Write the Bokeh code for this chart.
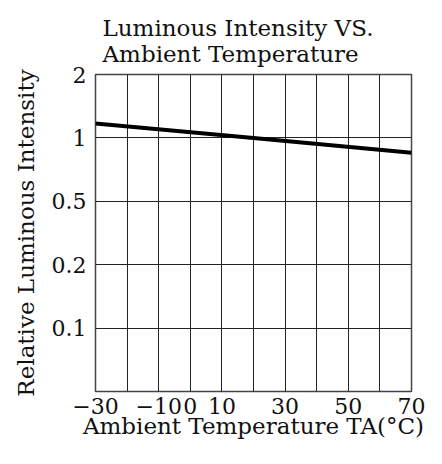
import numpy as np
from bokeh.plotting import figure
from bokeh.models import FixedTicker, Title, Range1d
from bokeh.embed import file_html
from bokeh.resources import INLINE

# Data
temps = [-30, 20, 70]                 # ambient temperature, degC
intensity = [1.17, 1.0, 0.85]          # relative luminous intensity

y_tick_values = [0.1, 0.2, 0.5, 1, 2]
y_tick_labels = ["0.1", "0.2", "0.5", "1", "2"]
x_tick_values = [-30, -10, 0, 10, 30, 50, 70]
x_tick_labels = ["\u221230", "\u221210", "0", "10", "30", "50", "70"]
x_grid_values = list(range(-30, 71, 10))

title_lines = ["Luminous Intensity VS.", "Ambient Temperature"]
x_label = "Ambient Temperature TA(\u00b0C)"
y_label = "Relative Luminous Intensity"

FONT = "DejaVu Serif"

# The chart's y axis places 0.1, 0.2, 0.5, 1, 2 at equal steps;
# map values onto that axis (log-interpolated between ticks).
y_pos_ticks = list(range(1, len(y_tick_values) + 1))
def y_to_axis(v):
    return np.interp(np.log10(v), np.log10(y_tick_values), y_pos_ticks)

y_mapped = [float(y_to_axis(v)) for v in intensity]

p = figure(frame_width=316, frame_height=317,
           min_border_left=95, min_border_right=23,
           min_border_top=74, min_border_bottom=57,
           output_backend="svg", toolbar_location=None,
           x_range=Range1d(-30, 70), y_range=Range1d(0, 5))

p.title = Title(text="\n".join(title_lines), align="left", offset=7,
                text_font=FONT, text_font_size="23px", text_font_style="normal",
                text_color="#111111", text_line_height=1.0, standoff=16)

p.line(temps, y_mapped, line_color="black", line_width=4)

# axes
p.xaxis.ticker = FixedTicker(ticks=x_tick_values)
p.xaxis.major_label_overrides = {float(k): v for k, v in zip(x_tick_values, x_tick_labels)}
p.yaxis.ticker = FixedTicker(ticks=y_pos_ticks)
p.yaxis.major_label_overrides = {float(k): v for k, v in zip(y_pos_ticks, y_tick_labels)}

for ax in (p.xaxis[0], p.yaxis[0]):
    ax.axis_line_color = None
    ax.major_tick_line_color = None
    ax.minor_tick_line_color = None
    ax.major_label_text_font = FONT
    ax.major_label_text_font_size = "22px"
    ax.major_label_text_color = "#111111"
    ax.axis_label_text_font = FONT
    ax.axis_label_text_font_size = "23px"
    ax.axis_label_text_font_style = "normal"
    ax.axis_label_text_color = "#111111"

p.xaxis.axis_label = x_label
p.yaxis.axis_label = y_label
p.xaxis.major_label_standoff = 0
p.xaxis.axis_label_standoff = -4
p.yaxis.major_label_standoff = 3
p.yaxis.axis_label_standoff = 10

# grid
p.xgrid.ticker = FixedTicker(ticks=x_grid_values)
p.ygrid.ticker = FixedTicker(ticks=y_pos_ticks)
for g in (p.xgrid[0], p.ygrid[0]):
    g.grid_line_color = "#222222"
    g.grid_line_width = 1

p.outline_line_color = "#444444"
p.outline_line_width = 1.5
p.background_fill_color = "white"
p.border_fill_color = "white"

open("out.html", "w").write(file_html(p, INLINE))
